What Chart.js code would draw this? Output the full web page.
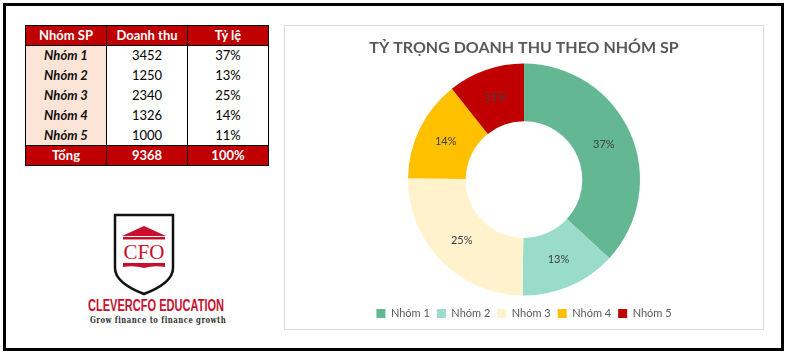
<!DOCTYPE html>
<html>
<head>
<meta charset="utf-8">
<script src="https://cdn.jsdelivr.net/npm/chart.js@4.4.1/dist/chart.umd.min.js"></script>
<style>
  html, body { margin:0; padding:0; background:#fff; width:788px; height:356px; overflow:hidden; font-family:"Lato","Open Sans",sans-serif; }
  #frame { position:absolute; left:3px; top:3px; width:781px; height:348px; border:3px solid #000; box-sizing:border-box; }
  #tbl { position:absolute; left:25px; top:25px; border-collapse:collapse; font-family:"Lato",sans-serif; font-size:13px; }
  #tbl td, #tbl th { width:81px; height:20px; padding:0; text-align:center; border-left:1px solid #000; border-right:1px solid #000; box-sizing:border-box; line-height:19px; }
  #tbl th { background:#C00000; color:#fff; font-weight:bold; border-top:1px solid #000; border-bottom:1px solid #000; }
  #tbl td.g { background:#FCE4D6; font-weight:bold; font-style:italic; color:#111; }
  #tbl tr.tot td { background:#C00000; color:#fff; font-weight:bold; border-top:1px solid #000; border-bottom:1px solid #000; }
  #box { position:absolute; left:284px; top:25px; width:480px; height:305px; border:1px solid #d9d9d9; box-sizing:border-box; }
  #wrap { position:absolute; left:0; top:0; width:478px; height:303px; }
  #logo { position:absolute; left:112px; top:213px; }
  .fit { position:absolute; white-space:nowrap; transform-origin:0 0; }
  #brand { color:#C8102E; font-family:"Liberation Sans",sans-serif; font-weight:bold; font-size:16px; line-height:18px; }
  #slogan { color:#333; font-family:"DejaVu Serif",serif; font-weight:bold; font-size:9px; letter-spacing:0.6px; line-height:12px; }
</style>
</head>
<body>
<div id="frame"></div>
<table id="tbl"><thead></thead><tbody></tbody></table>

<svg id="logo" width="64" height="84" viewBox="0 0 64 84">
  <path d="M3 2 L61 2 L61 55 Q61 70 32 81 Q3 70 3 55 Z" fill="#fff" stroke="#111" stroke-width="2.5"/>
  <path d="M32 13 L10 23 L54 23 Z" fill="#C8102E"/>
  <rect x="11" y="24" width="42" height="2.5" fill="#C8102E"/>
  <text x="32" y="46" text-anchor="middle" font-family="Liberation Serif, serif" font-size="21" fill="#C8102E">CFO</text>
  <path d="M11 50 L53 50 L53 54 Q42 52 32 55 Q22 52 11 54 Z" fill="#C8102E"/>
</svg>
<div id="brand" class="fit">CLEVERCFO EDUCATION</div>
<div id="slogan" class="fit">Grow finance to finance growth</div>

<div id="box"><div id="wrap"><canvas id="c" width="478" height="303"></canvas></div></div>

<script>
const categories = ["Nhóm 1", "Nhóm 2", "Nhóm 3", "Nhóm 4", "Nhóm 5"];
const revenue = [3452, 1250, 2340, 1326, 1000];
const colors = ["#63B893", "#98DCC9", "#FFF2CC", "#FFC000", "#C00000"];
const headers = ["Nhóm SP", "Doanh thu", "Tỷ lệ"];
const totalLabel = "Tổng";
const chartTitle = "TỶ TRỌNG DOANH THU THEO NHÓM SP";

const total = revenue.reduce((a, b) => a + b, 0);
const pct = revenue.map(v => Math.round(v / total * 100) + "%");

// table
const thead = document.querySelector("#tbl thead");
thead.innerHTML = "<tr>" + headers.map(h => "<th>" + h + "</th>").join("") + "</tr>";
const tbody = document.querySelector("#tbl tbody");
let rows = "";
categories.forEach((c, i) => {
  rows += "<tr><td class='g'>" + c + "</td><td>" + revenue[i] + "</td><td>" + pct[i] + "</td></tr>";
});
rows += "<tr class='tot'><td>" + totalLabel + "</td><td>" + total + "</td><td>100%</td></tr>";
tbody.innerHTML = rows;

// fit logo texts to their boxes
function fitText(id, left, top, width) {
  const el = document.getElementById(id);
  const w = el.offsetWidth, h = el.offsetHeight;
  el.style.left = left + "px";
  el.style.top = (top - h / 2) + "px";
  el.style.transform = "scaleX(" + (width / w) + ")";
}
fitText("brand", 88, 306, 136);
fitText("slogan", 90, 320, 136);

const labelPlugin = {
  id: "sliceLabels",
  afterDatasetsDraw(chart) {
    const ctx = chart.ctx;
    const meta = chart.getDatasetMeta(0);
    ctx.save();
    ctx.font = "11px Lato, sans-serif";
    ctx.fillStyle = "#404040";
    ctx.textAlign = "center";
    ctx.textBaseline = "middle";
    meta.data.forEach((arc, i) => {
      const p = arc.tooltipPosition();
      ctx.fillText(pct[i], p.x, p.y);
    });
    ctx.restore();
  }
};

new Chart(document.getElementById("c"), {
  type: "doughnut",
  data: {
    labels: categories,
    datasets: [{ data: revenue, backgroundColor: colors, borderWidth: 0 }]
  },
  options: {
    responsive: false,
    animation: false,
    events: [],
    radius: 116,
    cutout: 61,
    layout: { padding: { bottom: 0 } },
    plugins: {
      tooltip: { enabled: false },
      title: {
        display: true,
        text: chartTitle,
        color: "#595959",
        font: { family: "Lato", size: 16, weight: "bold" },
        padding: { top: 12, bottom: 1 }
      },
      legend: {
        position: "bottom",
        labels: {
          boxWidth: 9, boxHeight: 9, padding: 7,
          color: "#595959",
          font: { family: "Lato", size: 11 }
        }
      }
    }
  },
  plugins: [labelPlugin]
});
</script>
</body>
</html>
